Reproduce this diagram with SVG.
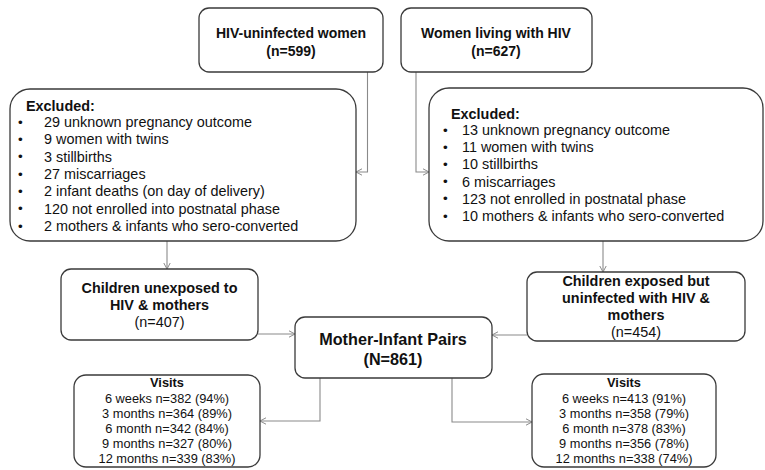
<svg xmlns="http://www.w3.org/2000/svg" width="765" height="470" viewBox="0 0 765 470">
<defs>
<marker id="arr" markerWidth="8" markerHeight="8" refX="7" refY="4" orient="auto" markerUnits="userSpaceOnUse">
<path d="M1,0.8 L7,4 L1,7.2" fill="none" stroke="#8a8a8a" stroke-width="1"/>
</marker>
<style>
.box{fill:#fff;stroke:#3a3a3a;stroke-width:1.3}
.con{fill:none;stroke:#8a8a8a;stroke-width:1.1}
text{font-family:"Liberation Sans",Arial,sans-serif;fill:#111}
.b{font-weight:bold}
.t14{font-size:14px}
.t145{font-size:14.4px}
.t13{font-size:12.8px}
.c{text-anchor:middle}
.bl{font-size:13.5px}
</style>
</defs>
<rect width="765" height="470" fill="#fff"/>
<g id="connectors">
<polyline class="con" points="367.5,72 367.5,172 356,172" marker-end="url(#arr)"/>
<polyline class="con" points="416,72 416,172 429,172" marker-end="url(#arr)"/>
<line class="con" x1="167" y1="241" x2="167" y2="269" marker-end="url(#arr)"/>
<line class="con" x1="603" y1="241" x2="603" y2="272" marker-end="url(#arr)"/>
<line class="con" x1="258" y1="334" x2="295" y2="334" marker-end="url(#arr)"/>
<line class="con" x1="527" y1="335" x2="492" y2="335" marker-end="url(#arr)"/>
<polyline class="con" points="320,378 320,421 260,421" marker-end="url(#arr)"/>
<polyline class="con" points="452,378 452,422 532,422" marker-end="url(#arr)"/>
</g>
<g id="hiv-uninfected">
<rect class="box" x="199" y="8" width="184" height="64" rx="10"/>
<text class="b t14 c" x="291" y="37.5">HIV-uninfected women</text>
<text class="b t14 c" x="291" y="55.5">(n=599)</text>
</g>
<g id="women-hiv">
<rect class="box" x="401" y="8" width="191" height="64" rx="10"/>
<text class="b t14 c" x="496" y="37.5">Women living with HIV</text>
<text class="b t14 c" x="496" y="55.5">(n=627)</text>
</g>
<g id="excluded-left">
<rect class="box" x="10" y="89" width="346" height="152" rx="20"/>
<text class="b t145" x="26" y="110.5">Excluded:</text>
<g class="t145">
<text class="bl" x="18" y="126.5">•</text><text x="44" y="127">29 unknown pregnancy outcome</text>
<text class="bl" x="18" y="143.8">•</text><text x="44" y="144.3">9 women with twins</text>
<text class="bl" x="18" y="161.2">•</text><text x="44" y="161.7">3 stillbirths</text>
<text class="bl" x="18" y="178.5">•</text><text x="44" y="179">27 miscarriages</text>
<text class="bl" x="18" y="195.8">•</text><text x="44" y="196.3">2 infant deaths (on day of delivery)</text>
<text class="bl" x="18" y="213.2">•</text><text x="44" y="213.7">120 not enrolled into postnatal phase</text>
<text class="bl" x="18" y="230.5">•</text><text x="44" y="231">2 mothers &amp; infants who sero-converted</text>
</g>
</g>
<g id="excluded-right">
<rect class="box" x="429" y="88" width="334" height="153" rx="20"/>
<text class="b t145" x="451" y="119">Excluded:</text>
<g class="t145">
<text class="bl" x="443" y="134.5">•</text><text x="462" y="135">13 unknown pregnancy outcome</text>
<text class="bl" x="443" y="151.7">•</text><text x="462" y="152.2">11 women with twins</text>
<text class="bl" x="443" y="168.9">•</text><text x="462" y="169.4">10 stillbirths</text>
<text class="bl" x="443" y="186.1">•</text><text x="462" y="186.6">6 miscarriages</text>
<text class="bl" x="443" y="203.3">•</text><text x="462" y="203.8">123 not enrolled in postnatal phase</text>
<text class="bl" x="443" y="220.5">•</text><text x="462" y="221">10 mothers &amp; infants who sero-converted</text>
</g>
</g>
<g id="children-unexposed">
<rect class="box" x="61" y="269" width="197" height="71" rx="10"/>
<text class="b t145 c" x="159.5" y="293">Children unexposed to</text>
<text class="b t145 c" x="159.5" y="310">HIV &amp; mothers</text>
<text class="t145 c" x="159.5" y="327">(n=407)</text>
</g>
<g id="children-exposed">
<rect class="box" x="527" y="272" width="218" height="69" rx="10"/>
<text class="b t145 c" x="636" y="286">Children exposed but</text>
<text class="b t145 c" x="636" y="303">uninfected with HIV &amp;</text>
<text class="b t145 c" x="636" y="320">mothers</text>
<text class="t145 c" x="636" y="337">(n=454)</text>
</g>
<g id="mother-infant">
<rect class="box" x="295" y="317" width="197" height="61" rx="10"/>
<text class="b c" x="393" y="345" font-size="16.2">Mother-Infant Pairs</text>
<text class="b c" x="393" y="365" font-size="16.2">(N=861)</text>
</g>
<g id="visits-left">
<rect class="box" x="74" y="375" width="186" height="92" rx="12"/>
<text class="b t13 c" x="167" y="387">Visits</text>
<g class="t13">
<text class="c" x="167" y="403">6 weeks n=382 (94%)</text>
<text class="c" x="167" y="418">3 months n=364 (89%)</text>
<text class="c" x="167" y="433">6 month n=342 (84%)</text>
<text class="c" x="167" y="448">9 months n=327 (80%)</text>
<text class="c" x="167" y="463">12 months n=339 (83%)</text>
</g>
</g>
<g id="visits-right">
<rect class="box" x="532" y="374" width="184" height="93" rx="12"/>
<text class="b t13 c" x="624" y="387">Visits</text>
<g class="t13">
<text class="c" x="624" y="403">6 weeks n=413 (91%)</text>
<text class="c" x="624" y="418">3 months n=358 (79%)</text>
<text class="c" x="624" y="433">6 month n=378 (83%)</text>
<text class="c" x="624" y="448">9 months n=356 (78%)</text>
<text class="c" x="624" y="463">12 months n=338 (74%)</text>
</g>
</g>
</svg>
